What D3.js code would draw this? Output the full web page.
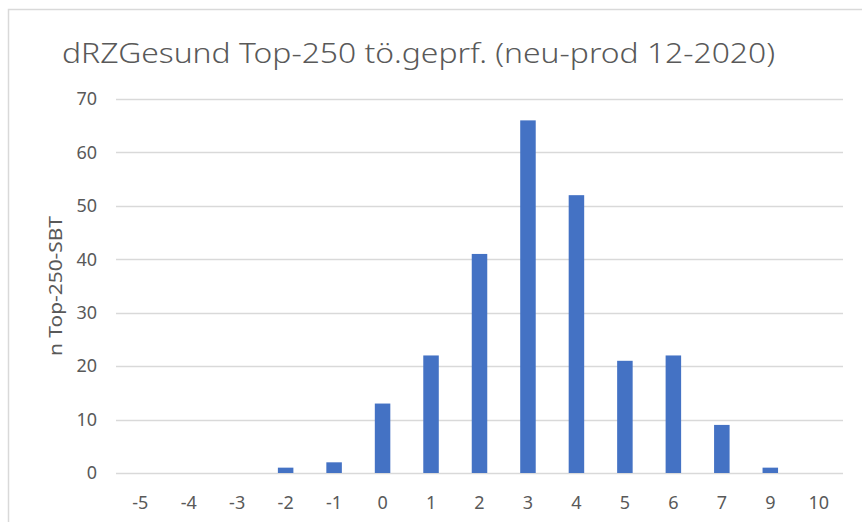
<!DOCTYPE html>
<html>
<head>
<meta charset="utf-8">
<script src="https://cdn.jsdelivr.net/npm/d3@7"></script>
<style>
  body { margin: 0; background: #fff; }
  svg { display: block; }
</style>
</head>
<body>
<svg id="chart" width="862" height="522"></svg>
<script>
const categories = ['-5', '-4', '-3', '-2', '-1', '0', '1', '2', '3', '4', '5', '6', '7', '9', '10'];
const counts = [0, 0, 0, 1, 2, 13, 22, 41, 66, 52, 21, 22, 9, 1, 0];
const yTicks = [0, 10, 20, 30, 40, 50, 60, 70];
const titleText = 'dRZGesund Top-250 tö.geprf. (neu-prod 12-2020)';
const yLabel = 'n Top-250-SBT';

const width = 862, height = 522;
const margin = { top: 99, right: 19, bottom: 49, left: 116 };
const font = '"Noto Sans", "Open Sans", sans-serif';
const textColour = '#595959';

const svg = d3.select('#chart');

// chart area border (runs off the right and bottom edge)
svg.append('rect')
  .attr('x', 8.5)
  .attr('y', 9.5)
  .attr('width', 900)
  .attr('height', 600)
  .style('fill', 'white')
  .style('stroke', '#d9d9d9')
  .style('stroke-width', 1.5);

const x = d3.scaleBand()
  .domain(categories)
  .range([margin.left, width - margin.right])
  .paddingInner(0.68)
  .paddingOuter(0.34);

const y = d3.scaleLinear()
  .domain([0, 70])
  .range([height - margin.bottom, margin.top]);

// gridlines
svg.append('g')
  .selectAll('line')
  .data(yTicks)
  .join('line')
  .attr('x1', margin.left)
  .attr('x2', width - margin.right)
  .attr('y1', d => Math.round(y(d)) + 0.5)
  .attr('y2', d => Math.round(y(d)) + 0.5)
  .style('stroke', '#d9d9d9')
  .style('stroke-width', 1.5);

// y tick labels
const yAxis = svg.append('g')
  .attr('transform', `translate(97, 0)`)
  .call(d3.axisLeft(y).tickValues(yTicks).tickSize(0).tickPadding(0));
yAxis.select('.domain').remove();
yAxis.selectAll('text')
  .style('font-family', font)
  .style('font-size', '18px')
  .style('fill', textColour);

// bars
svg.append('g')
  .selectAll('rect')
  .data(categories)
  .join('rect')
  .attr('x', d => x(d))
  .attr('width', x.bandwidth())
  .attr('y', (d, i) => y(counts[i]))
  .attr('height', (d, i) => y(0) - y(counts[i]))
  .style('fill', '#4472c4');

// x tick labels
const xAxis = svg.append('g')
  .attr('transform', `translate(0, ${y(0) + 23})`)
  .call(d3.axisBottom(x).tickSize(0).tickPadding(0));
xAxis.select('.domain').remove();
xAxis.selectAll('text')
  .style('font-family', font)
  .style('font-size', '18px')
  .style('fill', textColour);

// y axis title
svg.append('text')
  .attr('transform', `translate(62, ${(y(0) + y(70)) / 2}) rotate(-90)`)
  .attr('text-anchor', 'middle')
  .attr('textLength', 140)
  .attr('lengthAdjust', 'spacingAndGlyphs')
  .style('font-family', font)
  .style('font-size', '18px')
  .style('fill', textColour)
  .text(yLabel);

// chart title
svg.append('text')
  .attr('x', 62)
  .attr('y', 63)
  .attr('textLength', 713)
  .attr('lengthAdjust', 'spacingAndGlyphs')
  .style('font-family', font)
  .style('font-size', '28px')
  .style('font-weight', 300)
  .style('fill', textColour)
  .text(titleText);
</script>
</body>
</html>
